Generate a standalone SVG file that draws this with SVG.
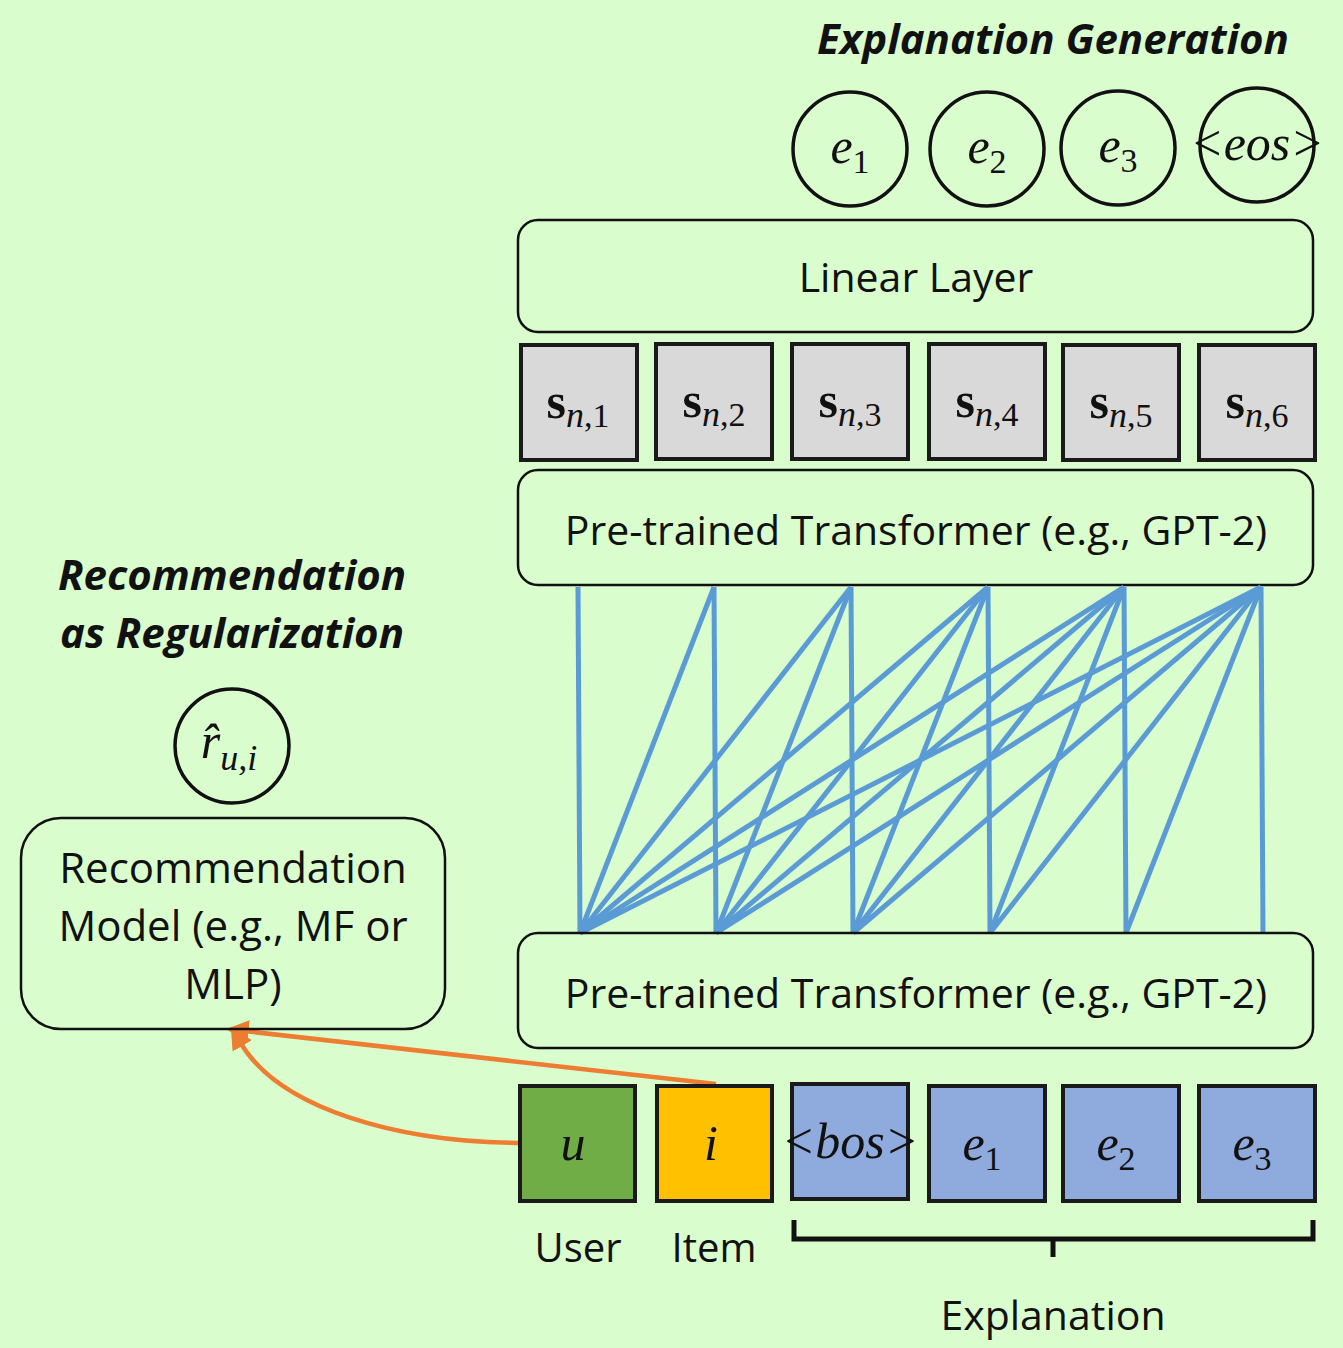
<svg xmlns="http://www.w3.org/2000/svg" width="1343" height="1348" viewBox="0 0 1343 1348">
<defs>
<style>
.txt{font-family:"Open Sans","Noto Sans","Liberation Sans",sans-serif;fill:#111;text-anchor:middle}
.title{font-family:"Open Sans","Noto Sans",sans-serif;font-weight:bold;font-style:italic;font-size:42px;fill:#111;text-anchor:middle}
.math{font-family:"Liberation Serif","DejaVu Serif",serif;font-style:italic;font-size:50px;fill:#111;text-anchor:middle}
.sub{font-style:normal;font-size:34px}
.subi{font-style:italic;font-size:36px}
.box{fill:none;stroke:#111;stroke-width:2.5}
.cir{fill:none;stroke:#111;stroke-width:3.5}
.tok{stroke:#1a1a1a;stroke-width:4}
.att{stroke:#5b9bd5;stroke-width:5;fill:none;stroke-linecap:butt}
.arr{stroke:#ed7d31;stroke-width:4.5;fill:none}
</style>
<marker id="ah" viewBox="0 0 10 10" refX="2" refY="5" markerWidth="5" markerHeight="5" orient="auto-start-reverse" markerUnits="strokeWidth">
<path d="M0,0 L10,5 L0,10 z" fill="#ed7d31"/>
</marker>
</defs>
<rect width="1343" height="1348" fill="#d9fdcd"/>

<g id="title-explanation"><text class="title" x="1053" y="54">Explanation Generation</text></g>

<g id="out-e1"><circle class="cir" cx="850" cy="149" r="57"/><text class="math" x="850" y="163">e<tspan class="sub" dy="10">1</tspan></text></g>
<g id="out-e2"><circle class="cir" cx="987" cy="149" r="57"/><text class="math" x="987" y="163">e<tspan class="sub" dy="10">2</tspan></text></g>
<g id="out-e3"><circle class="cir" cx="1118" cy="148" r="57"/><text class="math" x="1118" y="162">e<tspan class="sub" dy="10">3</tspan></text></g>
<g id="out-eos"><circle class="cir" cx="1257" cy="145" r="57"/><text class="math" x="1257" y="160" font-size="44">&lt;eos&gt;</text></g>

<g id="linear-layer"><rect class="box" x="518" y="220" width="795" height="112" rx="20"/><text class="txt" x="916" y="292" font-size="41">Linear Layer</text></g>

<g id="states">
<g id="s1"><rect class="tok" fill="#d9d9d9" x="521" y="345" width="116" height="115"/><text class="math" x="578" y="418"><tspan font-weight="bold" font-style="normal">s</tspan><tspan class="subi" dy="9">n</tspan><tspan class="sub">,1</tspan></text></g>
<g id="s2"><rect class="tok" fill="#d9d9d9" x="656" y="344" width="116" height="115"/><text class="math" x="714" y="417"><tspan font-weight="bold" font-style="normal">s</tspan><tspan class="subi" dy="9">n</tspan><tspan class="sub">,2</tspan></text></g>
<g id="s3"><rect class="tok" fill="#d9d9d9" x="792" y="344" width="116" height="115"/><text class="math" x="850" y="417"><tspan font-weight="bold" font-style="normal">s</tspan><tspan class="subi" dy="9">n</tspan><tspan class="sub">,3</tspan></text></g>
<g id="s4"><rect class="tok" fill="#d9d9d9" x="929" y="344" width="116" height="115"/><text class="math" x="987" y="417"><tspan font-weight="bold" font-style="normal">s</tspan><tspan class="subi" dy="9">n</tspan><tspan class="sub">,4</tspan></text></g>
<g id="s5"><rect class="tok" fill="#d9d9d9" x="1063" y="345" width="116" height="115"/><text class="math" x="1121" y="418"><tspan font-weight="bold" font-style="normal">s</tspan><tspan class="subi" dy="9">n</tspan><tspan class="sub">,5</tspan></text></g>
<g id="s6"><rect class="tok" fill="#d9d9d9" x="1199" y="345" width="116" height="115"/><text class="math" x="1257" y="418"><tspan font-weight="bold" font-style="normal">s</tspan><tspan class="subi" dy="9">n</tspan><tspan class="sub">,6</tspan></text></g>
</g>

<g id="transformer-top"><rect class="box" x="518" y="470" width="795" height="115" rx="20"/><text class="txt" x="916" y="545" font-size="41">Pre-trained Transformer (e.g., GPT-2)</text></g>

<g id="connectors">
<g id="attention">
<line class="att" x1="578" y1="587" x2="580" y2="933"/>
<line class="att" x1="714" y1="587" x2="580" y2="933"/>
<line class="att" x1="714" y1="587" x2="716" y2="933"/>
<line class="att" x1="851" y1="587" x2="580" y2="933"/>
<line class="att" x1="851" y1="587" x2="716" y2="933"/>
<line class="att" x1="851" y1="587" x2="853" y2="933"/>
<line class="att" x1="988" y1="587" x2="580" y2="933"/>
<line class="att" x1="988" y1="587" x2="716" y2="933"/>
<line class="att" x1="988" y1="587" x2="853" y2="933"/>
<line class="att" x1="988" y1="587" x2="990" y2="933"/>
<line class="att" x1="1124" y1="587" x2="580" y2="933"/>
<line class="att" x1="1124" y1="587" x2="716" y2="933"/>
<line class="att" x1="1124" y1="587" x2="853" y2="933"/>
<line class="att" x1="1124" y1="587" x2="990" y2="933"/>
<line class="att" x1="1124" y1="587" x2="1126" y2="933"/>
<line class="att" x1="1261" y1="587" x2="580" y2="933"/>
<line class="att" x1="1261" y1="587" x2="716" y2="933"/>
<line class="att" x1="1261" y1="587" x2="853" y2="933"/>
<line class="att" x1="1261" y1="587" x2="990" y2="933"/>
<line class="att" x1="1261" y1="587" x2="1126" y2="933"/>
<line class="att" x1="1261" y1="587" x2="1263" y2="933"/>
</g>
<g id="rec-inputs">
<line class="arr" x1="716" y1="1084" x2="244" y2="1031" marker-end="url(#ah)"/>
<path class="arr" d="M519,1143 C400,1142 280,1110 240,1042" marker-end="url(#ah)"/>
</g>
</g>

<g id="transformer-bottom"><rect class="box" x="518" y="933" width="795" height="115" rx="20"/><text class="txt" x="916" y="1008" font-size="41">Pre-trained Transformer (e.g., GPT-2)</text></g>

<g id="title-rec"><text class="title" x="232" y="590">Recommendation</text><text class="title" x="232" y="648">as Regularization</text></g>

<g id="rating"><circle class="cir" cx="232" cy="746" r="57"/><text class="math" x="229" y="758">r&#x302;<tspan class="subi" dy="12">u,i</tspan></text></g>

<g id="rec-model"><rect class="box" x="21" y="818" width="424" height="211" rx="40"/>
<text class="txt" font-size="42"><tspan x="233" y="883">Recommendation</tspan><tspan x="233" y="941">Model (e.g., MF or</tspan><tspan x="233" y="999">MLP)</tspan></text></g>

<g id="tok-u"><rect class="tok" fill="#70ad47" x="520" y="1086" width="115" height="115"/><text class="math" x="573" y="1160">u</text></g>
<g id="tok-i"><rect class="tok" fill="#ffc000" x="657" y="1086" width="115" height="115"/><text class="math" x="711" y="1160">i</text></g>
<g id="tok-bos"><rect class="tok" fill="#8faadc" x="792" y="1084" width="116" height="115"/><text class="math" x="850" y="1158" font-size="44">&lt;bos&gt;</text></g>
<g id="tok-e1"><rect class="tok" fill="#8faadc" x="929" y="1086" width="116" height="115"/><text class="math" x="982" y="1160">e<tspan class="sub" dy="10">1</tspan></text></g>
<g id="tok-e2"><rect class="tok" fill="#8faadc" x="1063" y="1086" width="116" height="115"/><text class="math" x="1116" y="1160">e<tspan class="sub" dy="10">2</tspan></text></g>
<g id="tok-e3"><rect class="tok" fill="#8faadc" x="1199" y="1086" width="116" height="115"/><text class="math" x="1252" y="1160">e<tspan class="sub" dy="10">3</tspan></text></g>

<g id="labels">
<text class="txt" x="578" y="1262" font-size="40">User</text>
<text class="txt" x="714" y="1262" font-size="40">Item</text>
<path d="M794,1220 V1239 H1313 V1220 M1053,1239 V1257" fill="none" stroke="#111" stroke-width="5"/>
<text class="txt" x="1053" y="1330" font-size="41">Explanation</text>
</g>
</svg>
